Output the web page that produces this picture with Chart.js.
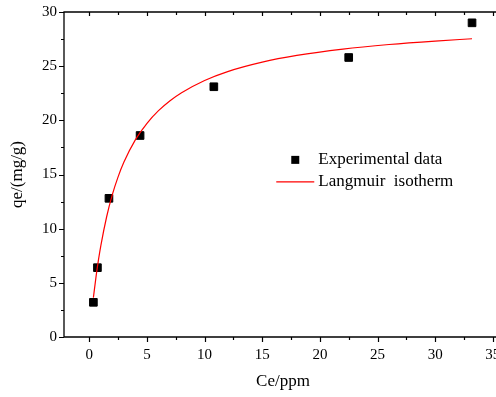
<!DOCTYPE html>
<html>
<head>
<meta charset="utf-8">
<script src="https://cdn.jsdelivr.net/npm/chart.js@4.4.1/dist/chart.umd.min.js"></script>
<style>
  html, body { margin: 0; padding: 0; background: #fff; overflow: hidden; }
  canvas { display: block; }
</style>
</head>
<body>
<canvas id="isotermaChart" width="510" height="397"></canvas>
<script>
const ceExp = [0.35, 0.7, 1.7, 4.4, 10.8, 22.5, 33.2];
const qeExp = [3.2, 6.4, 12.8, 18.6, 23.1, 25.8, 29.0];

// curva de Langmuir (puntos leidos sobre la linea roja)
const ceLang = [0.35, 0.6, 0.8, 1.0, 1.5, 2.0, 2.5, 3.0, 4.0, 5.0, 6.0, 7.0, 8.0, 10.0, 12.0, 15.0, 18.0, 22.0, 26.0, 30.0, 33.2];
const qeLang = [3.64, 5.73, 7.18, 8.46, 11.1, 13.16, 14.8, 16.15, 18.22, 19.73, 20.89, 21.81, 22.55, 23.68, 24.5, 25.37, 25.99, 26.58, 27.0, 27.32, 27.53];

const etiquetas = ['Experimental data', 'Langmuir  isotherm'];
const tituloX = 'Ce/ppm';
const tituloY = 'qe/(mg/g)';

const fuente = '"Liberation Serif", "Times New Roman", serif';

const puntosExp  = ceExp.map((x, i) => ({ x: x, y: qeExp[i] }));
const puntosLang = ceLang.map((x, i) => ({ x: x, y: qeLang[i] }));

// ejes, marcas, titulos y leyenda a mano
const ejesPlugin = {
    id: 'ejesOrigin',
    afterDraw(chart) {
        const ctx = chart.ctx;
        const a = chart.chartArea;
        const sx = chart.scales.x;
        const sy = chart.scales.y;
        ctx.save();
        ctx.strokeStyle = '#000';
        ctx.lineWidth = 1.3;
        ctx.beginPath();
        ctx.moveTo(a.left, a.bottom);
        ctx.lineTo(a.left, a.top);
        ctx.lineTo(a.right + 2, a.top);
        ctx.moveTo(a.left, a.bottom);
        ctx.lineTo(a.right + 2, a.bottom);
        ctx.stroke();

        ctx.lineWidth = 1.2;
        ctx.beginPath();
        for (let v = -2.5; v <= sx.max; v += 2.5) {
            if (v < sx.min) continue;
            const px = Math.round(sx.getPixelForValue(v)) + 0.5;
            const mayor = Math.abs(v % 5) < 1e-6;
            ctx.moveTo(px, a.bottom);
            ctx.lineTo(px, a.bottom + (mayor ? 5 : 3));
            ctx.moveTo(px, a.top);
            ctx.lineTo(px, a.top + (mayor ? 4 : 3));
        }
        for (let v = 0; v <= sy.max; v += 2.5) {
            const py = Math.round(sy.getPixelForValue(v)) + 0.5;
            const mayor = Math.abs(v % 5) < 1e-6;
            ctx.moveTo(a.left, py);
            ctx.lineTo(a.left - (mayor ? 5 : 3), py);
        }
        ctx.stroke();

        // titulos de ejes
        ctx.fillStyle = '#000';
        ctx.font = '17px ' + fuente;
        ctx.textAlign = 'center';
        ctx.textBaseline = 'middle';
        ctx.fillText(tituloX, 283, 382);
        ctx.save();
        ctx.translate(18, (a.top + a.bottom) / 2);
        ctx.rotate(-Math.PI / 2);
        ctx.fillText(tituloY, 0, 0);
        ctx.restore();

        // leyenda
        const lx = a.left + (a.right - a.left) * 0.528;
        const ly1 = a.top + (a.bottom - a.top) * 0.455;
        const ly2 = ly1 + 22;
        ctx.fillRect(lx - 4, ly1 - 4, 8, 8);
        ctx.strokeStyle = '#ff0000';
        ctx.lineWidth = 1.2;
        ctx.beginPath();
        ctx.moveTo(lx - 19, ly2);
        ctx.lineTo(lx + 19, ly2);
        ctx.stroke();
        ctx.textAlign = 'left';
        ctx.fillStyle = '#000';
        ctx.fillText(etiquetas[0], lx + 23, ly1);
        ctx.fillText(etiquetas[1], lx + 23, ly2);
        ctx.restore();
    }
};

const ctx = document.getElementById('isotermaChart').getContext('2d');
new Chart(ctx, {
    type: 'scatter',
    data: {
        datasets: [
            {
                label: etiquetas[1],
                data: puntosLang,
                showLine: true,
                borderColor: '#ff0000',
                borderWidth: 1.2,
                pointRadius: 0,
                cubicInterpolationMode: 'monotone',
                fill: false
            },
            {
                label: etiquetas[0],
                data: puntosExp,
                pointStyle: 'rect',
                pointRadius: 5.4,
                backgroundColor: '#000',
                borderColor: '#000',
                borderWidth: 1
            }
        ]
    },
    options: {
        responsive: false,
        animation: false,
        layout: { padding: { left: 0, top: 12, right: 8, bottom: 0 } },
        plugins: {
            legend: { display: false },
            tooltip: { enabled: false }
        },
        scales: {
            x: {
                type: 'linear',
                min: -2.2,
                max: 35.8,
                grid: { display: false, drawTicks: false },
                border: { display: false },
                ticks: {
                    stepSize: 5,
                    includeBounds: false,
                    autoSkip: false,
                    maxRotation: 0,
                    padding: 9,
                    color: '#000',
                    font: { family: fuente, size: 15 },
                    callback: v => (v >= 0 && Math.abs(v % 5) < 1e-6) ? String(v) : ''
                },
                afterFit: s => { s.height = 60; s.paddingLeft = 0; s.paddingRight = 0; }
            },
            y: {
                min: 0,
                max: 30,
                grid: { display: false, drawTicks: false },
                border: { display: false },
                ticks: {
                    stepSize: 5,
                    padding: 7,
                    color: '#000',
                    font: { family: fuente, size: 15 }
                },
                afterFit: s => { s.width = 64; s.paddingTop = 0; s.paddingBottom = 0; }
            }
        }
    },
    plugins: [ejesPlugin]
});
</script>
</body>
</html>
